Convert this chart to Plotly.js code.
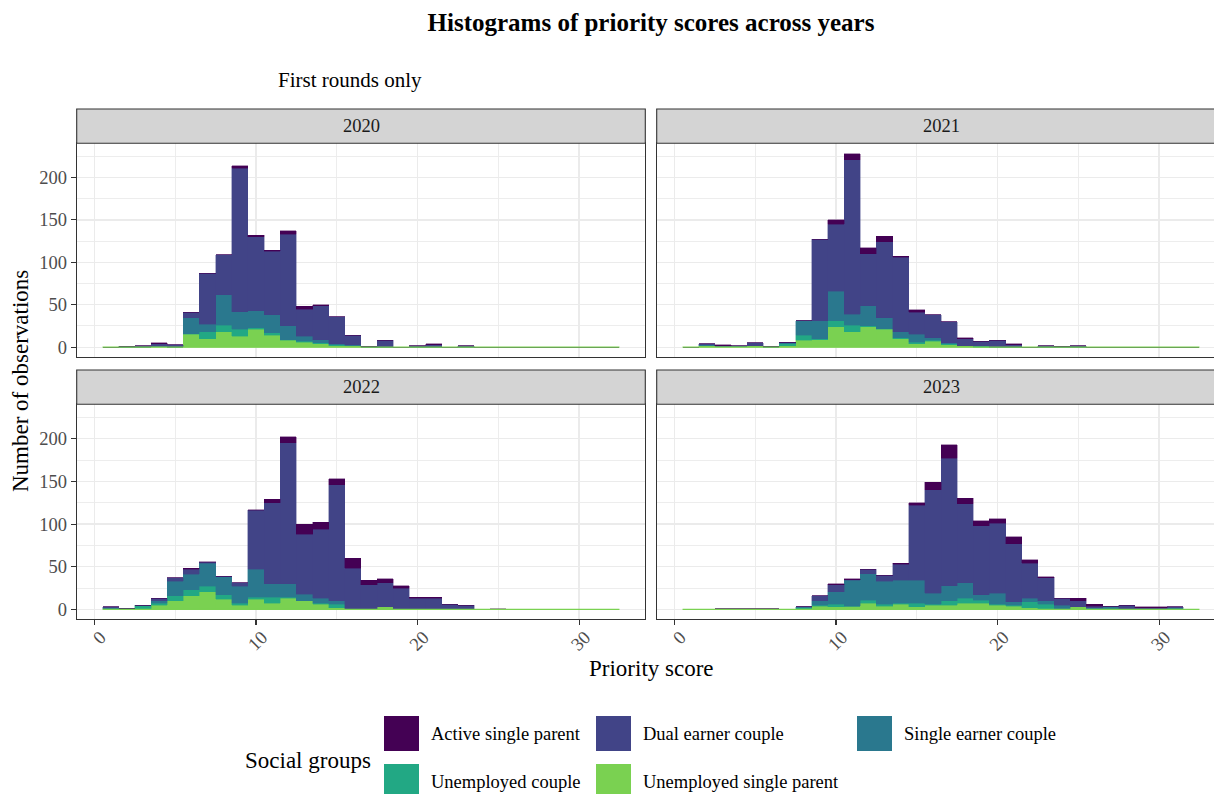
<!DOCTYPE html>
<html>
<head>
<meta charset="utf-8">
<script src="https://cdn.plot.ly/plotly-3.0.1.min.js"></script>
<style>
html,body{margin:0;padding:0;overflow:hidden;background:#fff;}
#chart{width:1232px;height:794px;}
</style>
</head>
<body>
<div id="chart"></div>
<script>
// ---- data ----
const binCentres = [1,2,3,4,5,6,7,8,9,10,11,12,13,14,15,16,17,18,19,20,21,22,23,24,25,26,27,28,29,30,31,32];
const binWidth = 1;
const years = ['2020','2021','2022','2023'];
const groups = ['Active single parent','Dual earner couple','Single earner couple','Unemployed couple','Unemployed single parent'];
const groupColors = ['#440154','#414487','#2A788E','#22A884','#7AD151'];

// 2020
const asp2020 = [0,0,0,1,0,0,0,0,3,2,1,4,3,1,0,0,0,0,0,0,1,0,0,0,0,0,0,0,0,0,0,0];
const dec2020 = [0,1,2,3,3,6,60,47,169,87,75,108,32,40,32,11,1,8,0,2,3,0,2,0,0,0,0,0,0,0,0,0];
const sec2020 = [0,0,0,0,0,19,9,36,21,20,21,16,6,4,1,1,0,0,0,0,0,0,0,0,0,0,0,0,0,0,0,0];
const uc2020  = [0,0,0,0,0,1,8,8,8,2,3,1,1,1,1,0,0,0,0,0,0,0,0,0,0,0,0,0,0,0,0,0];
const usp2020 = [0,0,0,1,0,15,10,18,13,21,14,8,6,4,2,2,0,0,0,0,0,0,0,0,0,0,0,0,0,0,0,0];
// 2021
const asp2021 = [0,0,1,0,0,0,0,0,0,5,7,7,7,1,3,0,0,1,0,0,1,0,0,0,0,0,0,0,0,0,0,0];
const dec2021 = [0,1,1,1,3,1,1,0,96,79,182,61,89,88,26,27,25,8,5,8,3,0,2,1,2,0,0,0,0,0,0,0];
const sec2021 = [0,1,0,0,0,0,1,17,21,35,13,24,13,7,9,3,1,0,1,0,0,0,0,0,0,0,0,0,0,0,0,0];
const uc2021  = [0,0,0,0,0,0,2,6,1,7,8,1,1,1,2,1,1,0,1,0,0,0,0,0,0,0,0,0,0,0,0,0];
const usp2021 = [0,2,1,1,2,0,2,8,9,24,18,24,21,10,4,7,3,2,0,0,0,0,0,0,0,0,0,0,0,0,0,0];
// 2022
const asp2022 = [0,0,0,0,0,1,1,0,0,1,4,7,12,8,7,12,5,5,3,1,1,0,0,0,1,0,0,0,0,0,0,0];
const dec2022 = [1,0,0,3,4,6,1,1,4,69,95,165,70,81,136,48,29,28,25,13,13,6,5,0,0,0,0,0,0,0,0,0];
const sec2022 = [1,0,0,3,17,18,27,21,20,33,16,16,8,6,4,0,0,0,0,0,0,0,0,0,0,0,0,0,0,0,0,0];
const uc2022  = [0,0,4,2,6,7,6,5,2,2,7,1,0,1,4,0,0,0,0,0,0,0,0,0,0,0,0,0,0,0,0,0];
const usp2022 = [1,1,1,5,10,16,21,12,5,12,7,13,10,6,2,0,0,3,0,0,0,0,0,0,0,0,0,0,0,0,0,0];
// 2023
const asp2023 = [0,0,0,0,0,0,0,0,0,1,1,0,0,1,3,9,16,6,6,5,8,4,1,0,3,2,0,0,1,1,0,0];
const dec2023 = [0,0,1,1,1,1,0,0,6,8,1,5,7,19,88,121,149,93,81,82,68,41,27,8,7,2,0,5,2,2,1,0];
const sec2023 = [0,0,0,0,0,0,0,1,5,15,30,31,27,27,27,13,18,18,6,13,4,4,4,5,0,1,3,0,0,0,2,0];
const uc2023  = [0,0,0,0,0,0,0,1,1,3,0,4,2,1,4,1,5,6,4,1,1,7,6,0,0,1,0,0,0,0,0,0];
const usp2023 = [0,0,0,0,0,0,0,1,4,3,4,7,4,6,3,5,5,7,7,5,4,2,0,0,3,0,1,0,0,0,0,0];

const seriesByYear = {
  '2020': [asp2020, dec2020, sec2020, uc2020, usp2020],
  '2021': [asp2021, dec2021, sec2021, uc2021, usp2021],
  '2022': [asp2022, dec2022, sec2022, uc2022, usp2022],
  '2023': [asp2023, dec2023, sec2023, uc2023, usp2023]
};

const xTickVals = [0,10,20,30];
const yTickVals = [0,50,100,150,200];

// ---- layout geometry (pixels) ----
const W = 1232, H = 794;
const px = v => v / W;
const py = v => 1 - v / H;
const cols = [[76.7, 645.3], [656.7, 1225.3]];
const rows = [[143.3, 356.7], [404.3, 619.0]];
const strips = [[109.0, 143.3], [370.0, 404.3]];
const FONT = '"Liberation Serif", "Times New Roman", serif';

const traces = [];
years.forEach((yr, p) => {
  const ax = p === 0 ? '' : String(p + 1);
  const s = seriesByYear[yr];
  for (let g = groups.length - 1; g >= 0; g--) {
    traces.push({
      type: 'bar',
      x: binCentres,
      y: s[g],
      width: binWidth,
      name: groups[g],
      marker: {color: groupColors[g], line: {color: groupColors[g], width: 0.4}},
      xaxis: 'x' + ax, yaxis: 'y' + ax,
      showlegend: false,
      hoverinfo: 'skip'
    });
  }
  traces.push({
    type: 'scatter', mode: 'lines',
    x: [binCentres[0] - binWidth / 2, binCentres[binCentres.length - 1] + binWidth / 2],
    y: [0, 0],
    line: {color: groupColors[4], width: 1.3},
    xaxis: 'x' + ax, yaxis: 'y' + ax,
    showlegend: false, hoverinfo: 'skip'
  });
});

const layout = {
  width: W, height: H,
  margin: {l: 0, r: 0, t: 0, b: 0},
  paper_bgcolor: '#ffffff', plot_bgcolor: '#ffffff',
  barmode: 'stack', bargap: 0,
  showlegend: false,
  font: {family: FONT, color: '#000'},
  title: {
    text: '<b>Histograms of priority scores across years</b>',
    x: px(651), xref: 'paper', xanchor: 'center',
    y: py(22), yref: 'paper', yanchor: 'middle',
    font: {family: FONT, size: 25, color: '#000'}
  },
  shapes: [],
  annotations: []
};

years.forEach((yr, p) => {
  const r = Math.floor(p / 2), c = p % 2;
  const ax = p === 0 ? '' : String(p + 1);
  const bottom = r === 1, left = c === 0;
  layout['xaxis' + ax] = {
    domain: [px(cols[c][0]), px(cols[c][1])],
    anchor: 'y' + ax,
    range: [-1.1, 34.1],
    showline: true, mirror: true, linecolor: '#333333', linewidth: 1.1,
    zeroline: false,
    showgrid: true, gridcolor: '#EBEBEB', gridwidth: 1.4,
    tickmode: 'array', tickvals: xTickVals, ticktext: xTickVals.map(String),
    minor: {tickmode: 'linear', tick0: 0, dtick: 5, showgrid: true, gridcolor: '#EBEBEB', gridwidth: 0.9, ticks: ''},
    showticklabels: bottom,
    ticks: bottom ? 'outside' : '', ticklen: 5, tickwidth: 1.1, tickcolor: '#333333',
    tickangle: -45, ticklabelshift: 6, ticklabelstandoff: -6,
    tickfont: {family: FONT, size: 18.5, color: '#4D4D4D'},
    fixedrange: true
  };
  layout['yaxis' + ax] = {
    domain: [py(rows[r][1]), py(rows[r][0])],
    anchor: 'x' + ax,
    range: [-11.2, 240.3],
    showline: true, mirror: true, linecolor: '#333333', linewidth: 1.1,
    zeroline: false,
    showgrid: true, gridcolor: '#EBEBEB', gridwidth: 1.4,
    tickmode: 'array', tickvals: yTickVals, ticktext: yTickVals.map(String),
    minor: {tickmode: 'linear', tick0: 0, dtick: 25, showgrid: true, gridcolor: '#EBEBEB', gridwidth: 0.9, ticks: ''},
    showticklabels: left,
    ticks: left ? 'outside' : '', ticklen: 5, tickwidth: 1.1, tickcolor: '#333333',
    tickfont: {family: FONT, size: 18.5, color: '#4D4D4D'},
    fixedrange: true
  };
  layout.shapes.push({
    type: 'rect', xref: 'paper', yref: 'paper',
    x0: px(cols[c][0]), x1: px(cols[c][1]), y0: py(strips[r][1]), y1: py(strips[r][0]),
    fillcolor: '#D4D4D4', line: {color: '#333333', width: 1.1}, layer: 'above'
  });
  layout.annotations.push({
    text: yr, xref: 'paper', yref: 'paper',
    x: px((cols[c][0] + cols[c][1]) / 2), y: py((strips[r][0] + strips[r][1]) / 2),
    xanchor: 'center', yanchor: 'middle', showarrow: false,
    font: {family: FONT, size: 18.5, color: '#1A1A1A'}
  });
});

layout.annotations.push({
  text: 'First rounds only', xref: 'paper', yref: 'paper',
  x: px(276), y: py(80), xanchor: 'left', yanchor: 'middle', showarrow: false,
  font: {family: FONT, size: 21, color: '#000'}
});
layout.annotations.push({
  text: 'Priority score', xref: 'paper', yref: 'paper',
  x: px(651), y: py(668), xanchor: 'center', yanchor: 'middle', showarrow: false,
  font: {family: FONT, size: 23, color: '#000'}
});
layout.annotations.push({
  text: 'Number of observations', xref: 'paper', yref: 'paper',
  x: px(20), y: py(381), xanchor: 'center', yanchor: 'middle', showarrow: false,
  textangle: -90,
  font: {family: FONT, size: 23, color: '#000'}
});

layout.annotations.push({
  text: 'Social groups', xref: 'paper', yref: 'paper',
  x: px(243), y: py(760), xanchor: 'left', yanchor: 'middle', showarrow: false,
  font: {family: FONT, size: 23, color: '#000'}
});
const legendSlots = [[384, 716], [596, 716], [857, 716], [384, 764], [596, 764]];
groups.forEach((g, i) => {
  const [kx, ky] = legendSlots[i];
  layout.shapes.push({
    type: 'rect', xref: 'paper', yref: 'paper',
    x0: px(kx), x1: px(kx + 35), y0: py(ky + 35), y1: py(ky),
    fillcolor: groupColors[i], line: {width: 0}
  });
  layout.annotations.push({
    text: g, xref: 'paper', yref: 'paper',
    x: px(kx + 45), y: py(ky + 18), xanchor: 'left', yanchor: 'middle', showarrow: false,
    font: {family: FONT, size: 18.5, color: '#000'}
  });
});

Plotly.newPlot('chart', traces, layout, {displayModeBar: false, staticPlot: true});
</script>
</body>
</html>
